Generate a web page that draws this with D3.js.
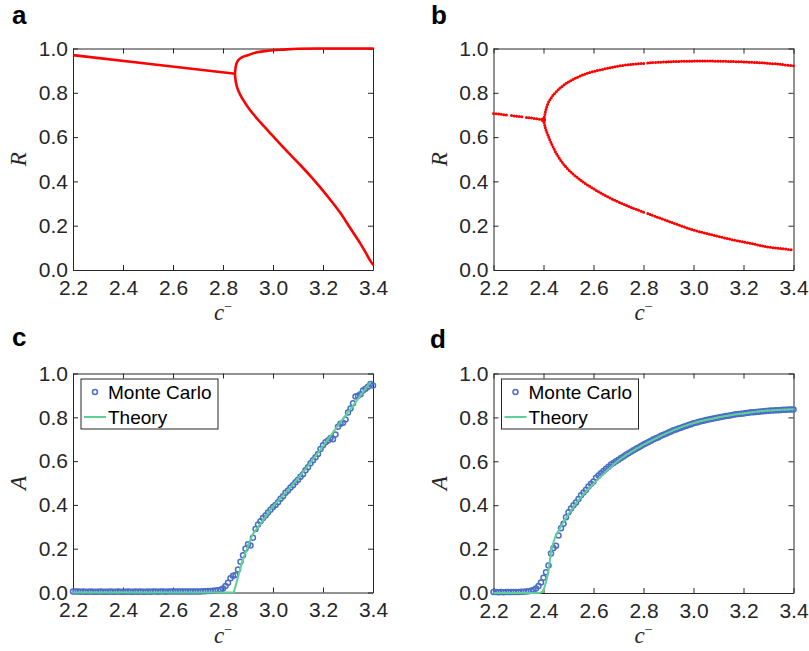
<!DOCTYPE html>
<html lang="en">
<head>
<meta charset="UTF-8">
<title>Bifurcation and Monte Carlo panels</title>
<script src="https://d3js.org/d3.v7.min.js"></script>
<style>
  body { margin: 0; background: #fff; }
  svg { display: block; }
  .tick text { font-family: "Liberation Sans", Arial, Helvetica, sans-serif; font-size: 21px; fill: #262626; }
  .domain, .tick line { stroke: #262626; stroke-width: 1; }
  .axlab { font-family: "Liberation Serif", "Times New Roman", serif; font-style: italic; font-size: 23px; fill: #262626; }
  .letter { font-family: "Liberation Sans", Arial, sans-serif; font-weight: bold; font-size: 26px; fill: #000; }
  .legtext { font-family: "Liberation Sans", Arial, sans-serif; font-size: 19px; fill: #000; }
</style>
</head>
<body>
<svg id="fig" width="809" height="651"></svg>
<script>
// ticks
const xTicks = [2.2, 2.4, 2.6, 2.8, 3.0, 3.2, 3.4];
const yTicks = [0, 0.2, 0.4, 0.6, 0.8, 1.0];

// panel a: left branch and folded branch (top -> fold -> bottom)
const aLeftC = [2.2, 2.5, 2.849];
const aLeftR = [0.97, 0.931, 0.886];
const aFoldC = [3.4, 3.2, 3.1, 3.04, 2.98, 2.936, 2.9, 2.875, 2.86, 2.852, 2.849, 2.848,
                2.849, 2.852, 2.857, 2.868, 2.885, 2.908, 2.95, 3.0, 3.05, 3.109, 3.15, 3.189, 3.23, 3.269, 3.31, 3.349, 3.375, 3.39, 3.4];
const aFoldR = [1.0, 1.0, 0.999, 0.995, 0.99, 0.983, 0.97, 0.96, 0.946, 0.925, 0.9, 0.885,
                0.87, 0.845, 0.822, 0.793, 0.76, 0.722, 0.666, 0.604, 0.543, 0.474, 0.424, 0.373, 0.316, 0.258, 0.187, 0.12, 0.07, 0.04, 0.025];

// panel b: dotted branches (null = gap)
const bLeftC = [2.2, 2.259, 2.265, 2.272, 2.318, 2.325, 2.332, 2.4];
const bLeftR = [0.707, 0.699, null, 0.697, 0.691, null, 0.689, 0.678];
const bUpC = [2.401, 2.405, 2.41, 2.418, 2.428, 2.439, 2.465, 2.49, 2.519, 2.56, 2.599, 2.65, 2.692, 2.75, 2.805, 2.81, 2.817, 2.9, 2.999, 3.08, 3.159, 3.23, 3.292, 3.35, 3.4];
const bUpR = [0.679, 0.70, 0.725, 0.753, 0.772, 0.79, 0.82, 0.842, 0.861, 0.882, 0.896, 0.909, 0.919, 0.928, 0.933, null, 0.935, 0.94, 0.943, 0.943, 0.941, 0.938, 0.934, 0.928, 0.922];
const bLoC = [2.401, 2.405, 2.41, 2.418, 2.43, 2.445, 2.46, 2.48, 2.505, 2.54, 2.572, 2.625, 2.692, 2.75, 2.805, 2.81, 2.817, 2.9, 2.999, 3.08, 3.159, 3.23, 3.292, 3.35, 3.4];
const bLoR = [0.677, 0.652, 0.632, 0.608, 0.575, 0.54, 0.51, 0.478, 0.447, 0.413, 0.387, 0.35, 0.311, 0.283, 0.259, null, 0.255, 0.22, 0.181, 0.157, 0.136, 0.12, 0.105, 0.097, 0.09];

// panels c and d: Monte Carlo on a 0.01 grid of c-
const mcGrid = d3.range(121).map(i => +(2.2 + i * 0.01).toFixed(2));
const cMC = [
  0.005,0.004,0.004,0.003,0.004,0.003,0.003,0.004,0.003,0.003,
  0.003,0.004,0.003,0.003,0.003,0.004,0.003,0.003,0.004,0.003,
  0.003,0.003,0.004,0.003,0.003,0.004,0.003,0.004,0.003,0.003,
  0.004,0.003,0.004,0.004,0.003,0.004,0.004,0.003,0.004,0.004,
  0.004,0.005,0.004,0.004,0.005,0.004,0.005,0.005,0.004,0.005,
  0.005,
  0.005,0.006,0.006,0.007,0.007,0.008,0.009,0.010,0.012,0.018,
  0.030,0.045,0.065,0.077,0.080,0.105,0.140,0.170,0.200,0.220,
  0.215,0.250,0.290,0.310,0.325,0.340,0.352,0.365,0.378,0.390,
  0.400,0.412,0.428,0.440,0.455,0.466,0.480,0.490,0.503,0.515,
  0.528,0.540,0.558,0.572,0.590,0.604,0.618,0.632,0.655,0.672,
  0.686,0.694,0.705,0.700,0.722,0.757,0.770,0.775,0.790,0.822,
  0.840,0.864,0.895,0.898,0.905,0.922,0.930,0.940,0.952,0.945
];
const dMC = [
  0.004,0.004,0.003,0.004,0.003,0.004,0.004,0.004,0.005,0.005,0.005,
  0.006,0.006,0.007,0.008,0.010,0.014,0.020,0.032,0.048,0.070,
  0.095,0.125,0.180,0.205,0.215,0.262,0.295,0.315,0.345,0.368,
  0.385,0.400,0.412,0.428,0.445,0.458,0.470,0.485,0.498,0.508,
  0.525,0.535,0.545,0.556,0.566,0.575,0.585,0.592,0.600,0.607,
  0.615,0.622,0.630,0.637,0.643,0.650,0.657,0.663,0.670,0.676,
  0.682,0.688,0.694,0.700,0.705,0.710,0.716,0.721,0.726,0.731,
  0.736,0.741,0.745,0.749,0.753,0.757,0.761,0.765,0.769,0.773,
  0.776,0.779,0.782,0.785,0.788,0.791,0.793,0.795,0.797,0.800,
  0.802,0.804,0.806,0.808,0.810,0.812,0.814,0.815,0.817,0.818,
  0.820,0.821,0.823,0.824,0.825,0.826,0.827,0.828,0.829,0.830,
  0.831,0.832,0.833,0.833,0.834,0.835,0.835,0.836,0.836,0.836
];
// theory curves
const cThC = [2.2, 2.843, 2.878, 2.918, 2.96, 3.0, 3.07, 3.135, 3.2, 3.268, 3.33, 3.39];
const cThA = [0, 0, 0.145, 0.265, 0.33, 0.393, 0.48, 0.57, 0.668, 0.775, 0.868, 0.962];
const dThC = [2.2, 2.38, 2.395, 2.405, 2.418, 2.432, 2.445, 2.465, 2.498, 2.545, 2.6, 2.705, 2.812, 2.9, 2.999, 3.08, 3.159, 3.23, 3.292, 3.35, 3.4];
const dThA = [0, 0, 0.005, 0.03, 0.09, 0.196, 0.249, 0.293, 0.355, 0.43, 0.497, 0.608, 0.683, 0.732, 0.774, 0.795, 0.812, 0.823, 0.831, 0.835, 0.837];

const RED = "#ff0000", BLUE = "#4a6dc6", GREEN = "#5fcf98";

const svg = d3.select("#fig");
svg.append("rect").attr("width", 809).attr("height", 651).attr("fill", "#fff");

function zip(cs, vs) { return cs.map((c, i) => ({ c: c, v: vs[i] })); }

function panel(box, ylab, letter, letterPos) {
  const x = d3.scaleLinear().domain([2.2, 3.4]).range([box.x0, box.x1]);
  const y = d3.scaleLinear().domain([0, 1]).range([box.y1, box.y0]);
  const g = svg.append("g");
  const fmt = d3.format(".1f");

  g.append("g").attr("transform", `translate(0,${box.y1})`)
    .call(d3.axisBottom(x).tickValues(xTicks).tickFormat(fmt).tickSizeInner(-5).tickSizeOuter(0).tickPadding(10));
  g.append("g").attr("transform", `translate(0,${box.y0})`)
    .call(d3.axisTop(x).tickValues(xTicks).tickFormat("").tickSizeInner(-5).tickSizeOuter(0));
  g.append("g").attr("transform", `translate(${box.x0},0)`)
    .call(d3.axisLeft(y).tickValues(yTicks).tickFormat(fmt).tickSizeInner(-5).tickSizeOuter(0).tickPadding(5));
  g.append("g").attr("transform", `translate(${box.x1},0)`)
    .call(d3.axisRight(y).tickValues(yTicks).tickFormat("").tickSizeInner(-5).tickSizeOuter(0));

  // x label c^-
  const xl = g.append("text").attr("class", "axlab")
    .attr("x", (box.x0 + box.x1) / 2).attr("y", box.y1 + 50).attr("text-anchor", "middle");
  xl.append("tspan").text("c");
  xl.append("tspan").attr("dy", -9).attr("font-size", 14).attr("font-style", "normal").text("\u2212");

  g.append("text").attr("class", "axlab").attr("text-anchor", "middle")
    .attr("transform", `translate(${box.x0 - 47},${(box.y0 + box.y1) / 2}) rotate(-90)`)
    .text(ylab);

  svg.append("text").attr("class", "letter").attr("x", letterPos[0]).attr("y", letterPos[1]).text(letter);
  return { g, x, y };
}

const boxA = { x0: 73, x1: 373, y0: 48.5, y1: 270 };
const boxB = { x0: 493.5, x1: 793.5, y0: 48.5, y1: 270 };
const boxC = { x0: 73, x1: 373, y0: 373.5, y1: 592.5 };
const boxD = { x0: 493.5, x1: 793.5, y0: 373.5, y1: 593 };

// ---- a ----
const pa = panel(boxA, "R", "a", [12, 24]);
const lineA = d3.line().x(d => pa.x(d.c)).y(d => pa.y(d.v));
pa.g.append("path").datum(zip(aLeftC, aLeftR)).attr("d", lineA)
  .attr("fill", "none").attr("stroke", RED).attr("stroke-width", 2.6);
pa.g.append("path").datum(zip(aFoldC, aFoldR)).attr("d", lineA.curve(d3.curveCatmullRom))
  .attr("fill", "none").attr("stroke", RED).attr("stroke-width", 2.6).attr("stroke-linecap", "round");

// ---- b ----
const pb = panel(boxB, "R", "b", [431, 24]);
const lineB = d3.line().defined(d => d.v != null).x(d => pb.x(d.c)).y(d => pb.y(d.v)).curve(d3.curveCatmullRom);
[[bLeftC, bLeftR], [bUpC, bUpR], [bLoC, bLoR]].forEach(([cs, vs]) => {
  pb.g.append("path").datum(zip(cs, vs)).attr("d", lineB)
    .attr("fill", "none").attr("stroke", RED).attr("stroke-width", 3)
    .attr("stroke-linecap", "round").attr("stroke-dasharray", "0 2.6");
});
pb.g.append("circle").attr("cx", pb.x(2.4)).attr("cy", pb.y(0.678)).attr("r", 2.6).attr("fill", RED);

// ---- c, d ----
function mcPanel(box, letter, letterPos, mc, thC, thA, curve) {
  const p = panel(box, "A", letter, letterPos);
  p.g.append("g").selectAll("circle").data(zip(mcGrid, mc)).join("circle")
    .attr("cx", d => p.x(d.c)).attr("cy", d => p.y(d.v)).attr("r", 2.5)
    .attr("fill", "none").attr("stroke", BLUE).attr("stroke-width", 1.5);
  p.g.append("path").datum(zip(thC, thA))
    .attr("d", d3.line().x(d => p.x(d.c)).y(d => p.y(d.v)).curve(curve))
    .attr("fill", "none").attr("stroke", GREEN).attr("stroke-width", 2);

  // legend
  const lx = box.x0 + 8, ly = box.y0 + 5.5;
  const lg = p.g.append("g").attr("transform", `translate(${lx},${ly})`);
  lg.append("rect").attr("width", 137).attr("height", 50).attr("fill", "#fff").attr("stroke", "#262626").attr("stroke-width", 1);
  lg.append("circle").attr("cx", 14).attr("cy", 13).attr("r", 2.5).attr("fill", "none").attr("stroke", BLUE).attr("stroke-width", 1.5);
  lg.append("text").attr("class", "legtext").attr("x", 27).attr("y", 20).text("Monte Carlo");
  lg.append("line").attr("x1", 3).attr("x2", 25).attr("y1", 38).attr("y2", 38).attr("stroke", GREEN).attr("stroke-width", 2);
  lg.append("text").attr("class", "legtext").attr("x", 27).attr("y", 45).text("Theory");
}
mcPanel(boxC, "c", [12, 346], cMC, cThC, cThA, d3.curveLinear);
mcPanel(boxD, "d", [430, 348], dMC, dThC, dThA, d3.curveMonotoneX);
</script>
</body>
</html>
